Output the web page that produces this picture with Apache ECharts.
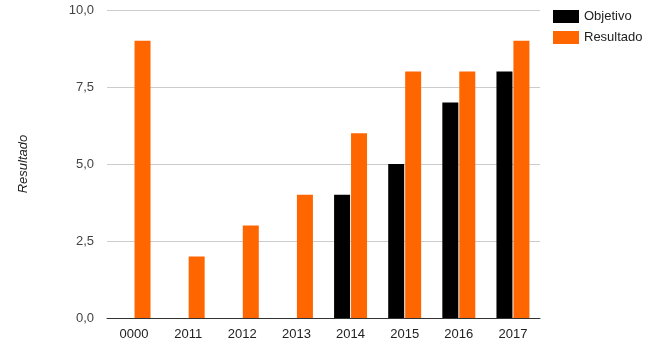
<!DOCTYPE html>
<html>
<head>
<meta charset="utf-8">
<script src="https://cdn.jsdelivr.net/npm/echarts@6/dist/echarts.min.js"></script>
<style>
  html, body { margin: 0; padding: 0; background: #fff; }
  #chart { width: 647px; height: 347px; }
</style>
</head>
<body>
<div id="chart"></div>
<script>
// Yearly target vs. achieved result
const categories = ['0000', '2011', '2012', '2013', '2014', '2015', '2016', '2017'];
const objetivo = [0, 0, 0, 0, 4, 5, 7, 8];
const resultado = [9, 2, 3, 4, 6, 8, 8, 9];
const yTicks = { min: 0, max: 10, interval: 2.5 };

const chart = echarts.init(document.getElementById('chart'), null, { renderer: 'canvas' });
const font = 'Arial, "Liberation Sans", sans-serif';

chart.setOption({
  animation: false,
  textStyle: { fontFamily: font },
  grid: { left: 107, right: 107, top: 10, bottom: 29, containLabel: false },
  legend: {
    orient: 'vertical',
    left: 553,
    top: 10,
    padding: 0,
    itemWidth: 26,
    itemHeight: 13,
    itemGap: 8,
    icon: 'rect',
    textStyle: { fontFamily: font, fontSize: 13, color: '#222' },
    data: ['Objetivo', 'Resultado']
  },
  xAxis: {
    type: 'category',
    data: categories,
    axisLine: { lineStyle: { color: '#333', width: 1 } },
    axisTick: { show: false },
    axisLabel: { color: '#222', fontSize: 13, fontFamily: font, margin: 10 }
  },
  yAxis: {
    type: 'value',
    min: yTicks.min,
    max: yTicks.max,
    interval: yTicks.interval,
    name: 'Resultado',
    nameLocation: 'middle',
    nameGap: 77,
    nameRotate: 90,
    nameTextStyle: { fontStyle: 'italic', fontSize: 13, color: '#222', fontFamily: font },
    axisLine: { show: false },
    axisTick: { show: false },
    splitLine: { lineStyle: { color: '#cccccc', width: 1 } },
    axisLabel: {
      color: '#444',
      fontSize: 13,
      fontFamily: font,
      margin: 13,
      formatter: v => v.toFixed(1).replace('.', ',')
    }
  },
  series: [
    {
      name: 'Objetivo',
      type: 'bar',
      data: objetivo,
      barWidth: 16,
      barGap: '6%',
      itemStyle: { color: '#000000' }
    },
    {
      name: 'Resultado',
      type: 'bar',
      data: resultado,
      barWidth: 16,
      barGap: '6%',
      itemStyle: { color: '#ff6600' }
    }
  ]
});
</script>
</body>
</html>
